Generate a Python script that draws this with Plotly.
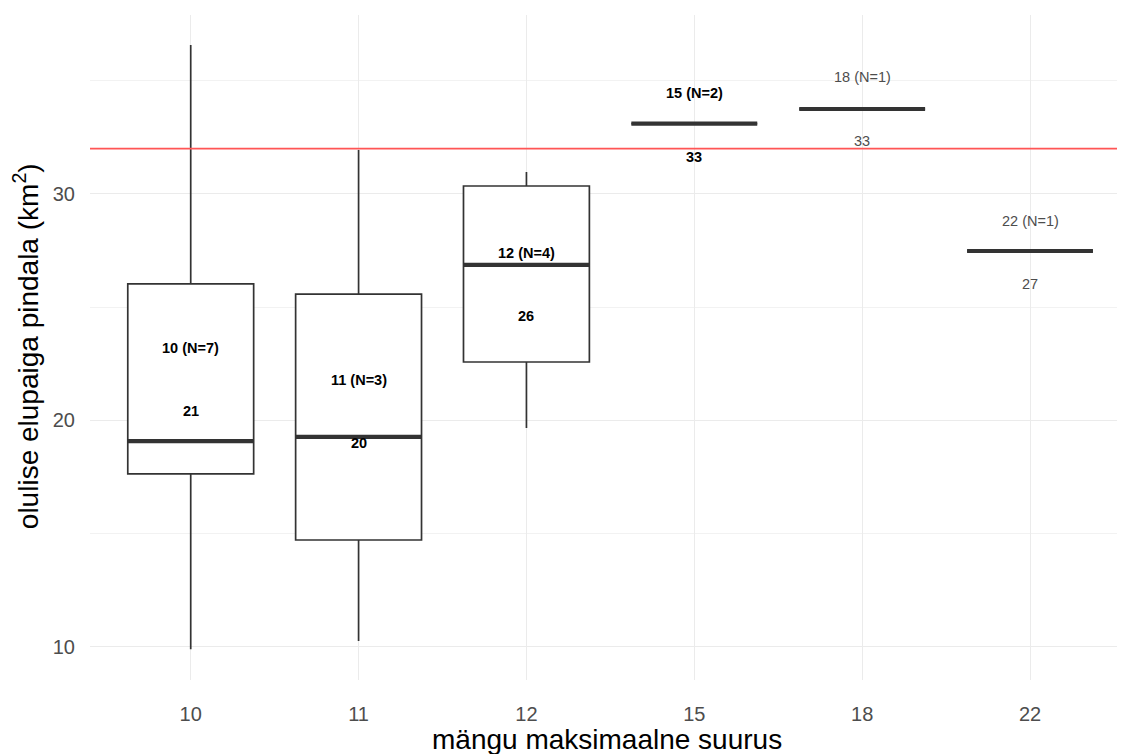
import plotly.graph_objects as go

# ---- data ----
categories = ["10", "11", "12", "15", "18", "22"]
n_obs = [7, 3, 4, 2, 1, 1]
lower_whisker = [9.9, 10.26, 19.67, 33.1, 33.75, 27.48]
q1_vals = [17.64, 14.72, 22.58, 33.1, 33.75, 27.48]
median_vals = [19.09, 19.27, 26.87, 33.1, 33.75, 27.48]
q3_vals = [26.03, 25.58, 30.35, 33.1, 33.75, 27.48]
upper_whisker = [36.58, 31.94, 30.97, 33.1, 33.75, 27.48]
mean_vals = [21.8, 20.4, 26.0, 33.05, 33.75, 27.42]
mean_labels = ["21", "20", "26", "33", "33", "27"]
reference_line = [32]

FONT = "Liberation Sans, Arial, sans-serif"
BOX_W = 0.75
xpos = list(range(len(categories)))

fig = go.Figure()

fig.add_trace(go.Box(
    x=xpos, q1=q1_vals, median=median_vals, q3=q3_vals,
    lowerfence=lower_whisker, upperfence=upper_whisker,
    width=BOX_W, fillcolor="white",
    line=dict(color="#333333", width=1.7),
    whiskerwidth=0, boxpoints=False, showlegend=False, hoverinfo="skip",
))

# thick median lines
mx, my = [], []
for i, m in zip(xpos, median_vals):
    mx += [i - BOX_W / 2, i + BOX_W / 2, None]
    my += [m, m, None]
fig.add_trace(go.Scatter(x=mx, y=my, mode="lines",
                         line=dict(color="#333333", width=4.2),
                         showlegend=False, hoverinfo="skip"))

# red reference line
for r in reference_line:
    fig.add_shape(type="line", xref="paper", x0=0, x1=1, yref="y", y0=r, y1=r,
                  line=dict(color="rgb(255,85,85)", width=1.6), layer="above")

# labels
for i, cat, n, mv, ml in zip(xpos, categories, n_obs, mean_vals, mean_labels):
    col = "#000000" if n >= 2 else "#4d4d4d"
    txt1 = f"{cat} (N={n})"
    txt2 = ml
    if n >= 2:
        txt1 = f"<b>{txt1}</b>"
        txt2 = f"<b>{txt2}</b>"
    fig.add_annotation(x=i, y=mv + 1.4, text=txt1, showarrow=False,
                       xanchor="center", yanchor="middle",
                       font=dict(family=FONT, size=14.5, color=col))
    fig.add_annotation(x=i, y=mv - 1.4, text=txt2, showarrow=False,
                       xanchor="center", yanchor="middle",
                       font=dict(family=FONT, size=14.5, color=col))

# axis titles as paper-anchored annotations for exact placement
PLOT_W = 1109 - 82
fig.add_annotation(xref="paper", yref="paper", x=(599 - 82) / PLOT_W, y=-0.09,
                   text="mängu maksimaalne suurus", showarrow=False,
                   xanchor="center", yanchor="middle",
                   font=dict(family=FONT, size=28, color="#000000"))
fig.add_annotation(xref="paper", yref="paper", x=(18 - 82) / PLOT_W, y=0.502,
                   text="olulise elupaiga pindala (km<sup>2</sup>)", showarrow=False,
                   textangle=-90, xanchor="center", yanchor="middle",
                   font=dict(family=FONT, size=28, color="#000000"))

# page body has an 8px margin: figure is shifted by (8, 8)
fig.update_layout(
    width=1109, height=746,
    margin=dict(l=82, r=0, t=7, b=74),
    paper_bgcolor="white", plot_bgcolor="white",
    font=dict(family=FONT, color="#4d4d4d"),
    xaxis=dict(
        range=[-0.6, -0.6 + PLOT_W / 167.86], automargin=False,
        tickmode="array", tickvals=xpos, ticktext=categories,
        showgrid=True, gridcolor="#EBEBEB", gridwidth=1.4,
        zeroline=False, showline=False,
        tickfont=dict(family=FONT, size=20, color="#4d4d4d"),
        ticklabelstandoff=20,
    ),
    yaxis=dict(
        range=[8.54, 37.9], automargin=False,
        tickmode="linear", tick0=10, dtick=10,
        showgrid=True, gridcolor="#EBEBEB", gridwidth=1.4,
        minor=dict(tick0=5, dtick=5, showgrid=True, gridcolor="#F2F2F2", gridwidth=0.9),
        zeroline=False, showline=False,
        tickfont=dict(family=FONT, size=20, color="#4d4d4d"),
        ticklabelstandoff=14,
    ),
)

fig.write_html("out.html")
